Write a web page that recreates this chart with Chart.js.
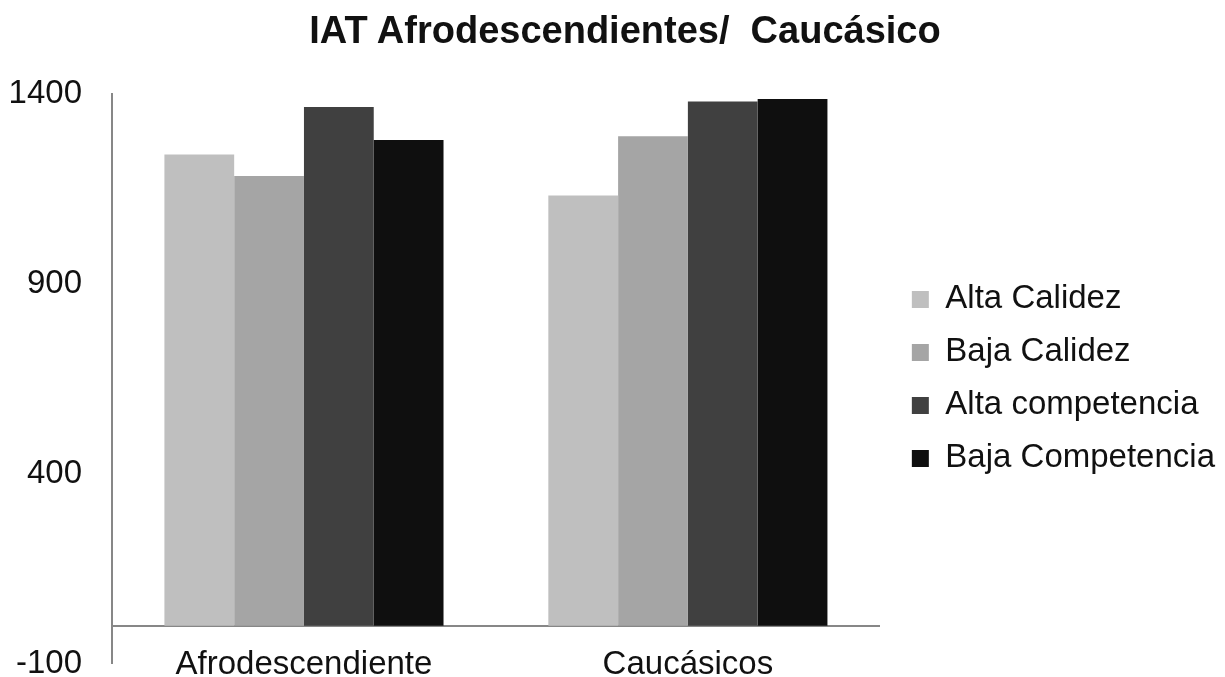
<!DOCTYPE html>
<html>
<head>
<meta charset="utf-8">
<script src="https://cdn.jsdelivr.net/npm/chart.js@4"></script>
<style>
  body { margin: 0; background: #fff; overflow: hidden; }
  .wrap { position: relative; width: 1225px; height: 677px; }
  .title {
    position: absolute; left: 25px; right: 0; top: 9px;
    text-align: center; line-height: 44px;
    font: bold 38px "Liberation Sans", Arial, sans-serif; color: #111;
    white-space: pre;
  }
</style>
</head>
<body>
<div class="wrap">
  <canvas id="iatChart" width="1225" height="677"></canvas>
  <div class="title">IAT Afrodescendientes/  Caucásico</div>
</div>
<script>
const categories = ['Afrodescendiente', 'Caucásicos'];
const altaCalidez = [1241, 1133];
const bajaCalidez = [1184, 1289];
const altaCompetencia = [1366, 1380];
const bajaCompetencia = [1279, 1387];
const yMin = -100;
const yMax = 1400;
const yStep = 500;

const font = 'Liberation Sans, Arial, sans-serif';
const textColor = '#111';
const axisColor = '#878787';

const data = {
    labels: categories,
    datasets: [
        { label: 'Alta Calidez', data: altaCalidez, backgroundColor: '#bfbfbf' },
        { label: 'Baja Calidez', data: bajaCalidez, backgroundColor: '#a5a5a5' },
        { label: 'Alta competencia', data: altaCompetencia, backgroundColor: '#404040' },
        { label: 'Baja Competencia', data: bajaCompetencia, backgroundColor: '#0f0f0f' }
    ]
};

const config = {
    type: 'bar',
    data: data,
    options: {
        responsive: false,
        animation: false,
        layout: { padding: { left: 0, right: 0, top: 94, bottom: 2 } },
        datasets: {
            bar: { categoryPercentage: 0.727, barPercentage: 1, borderWidth: 0 }
        },
        plugins: {
            title: { display: false },
            legend: {
                position: 'right',
                fullSize: false,
                maxWidth: 340,
                labels: {
                    color: textColor,
                    font: { family: font, size: 33 },
                    boxWidth: 17,
                    boxHeight: 17,
                    padding: 20
                }
            },
            tooltip: { enabled: false }
        },
        scales: {
            x: {
                position: { y: 0 },
                z: 1,
                grid: { display: false, drawTicks: false },
                border: { display: true, color: axisColor, width: 2 },
                ticks: {
                    color: textColor,
                    font: { family: font, size: 33 },
                    padding: 19
                }
            },
            y: {
                min: yMin,
                max: yMax,
                // invisible tick marks keep the labels away from the axis line
                grid: {
                    display: true,
                    drawOnChartArea: false,
                    drawTicks: true,
                    tickLength: 30,
                    tickColor: 'rgba(0,0,0,0)'
                },
                border: { display: true, color: axisColor, width: 2 },
                ticks: {
                    stepSize: yStep,
                    color: textColor,
                    font: { family: font, size: 33, lineHeight: 0.8 },
                    padding: 0,
                    callback: (value) => String(value)
                },
                afterFit: (scale) => { scale.width = 112; }
            },
            // empty spacer between plot and legend
            spacer: {
                type: 'linear',
                position: 'right',
                grid: { display: false, drawTicks: false },
                border: { display: false },
                ticks: { display: false },
                afterFit: (scale) => { scale.width = 12; }
            }
        }
    }
};

const myChart = new Chart(document.getElementById('iatChart'), config);
</script>
</body>
</html>
